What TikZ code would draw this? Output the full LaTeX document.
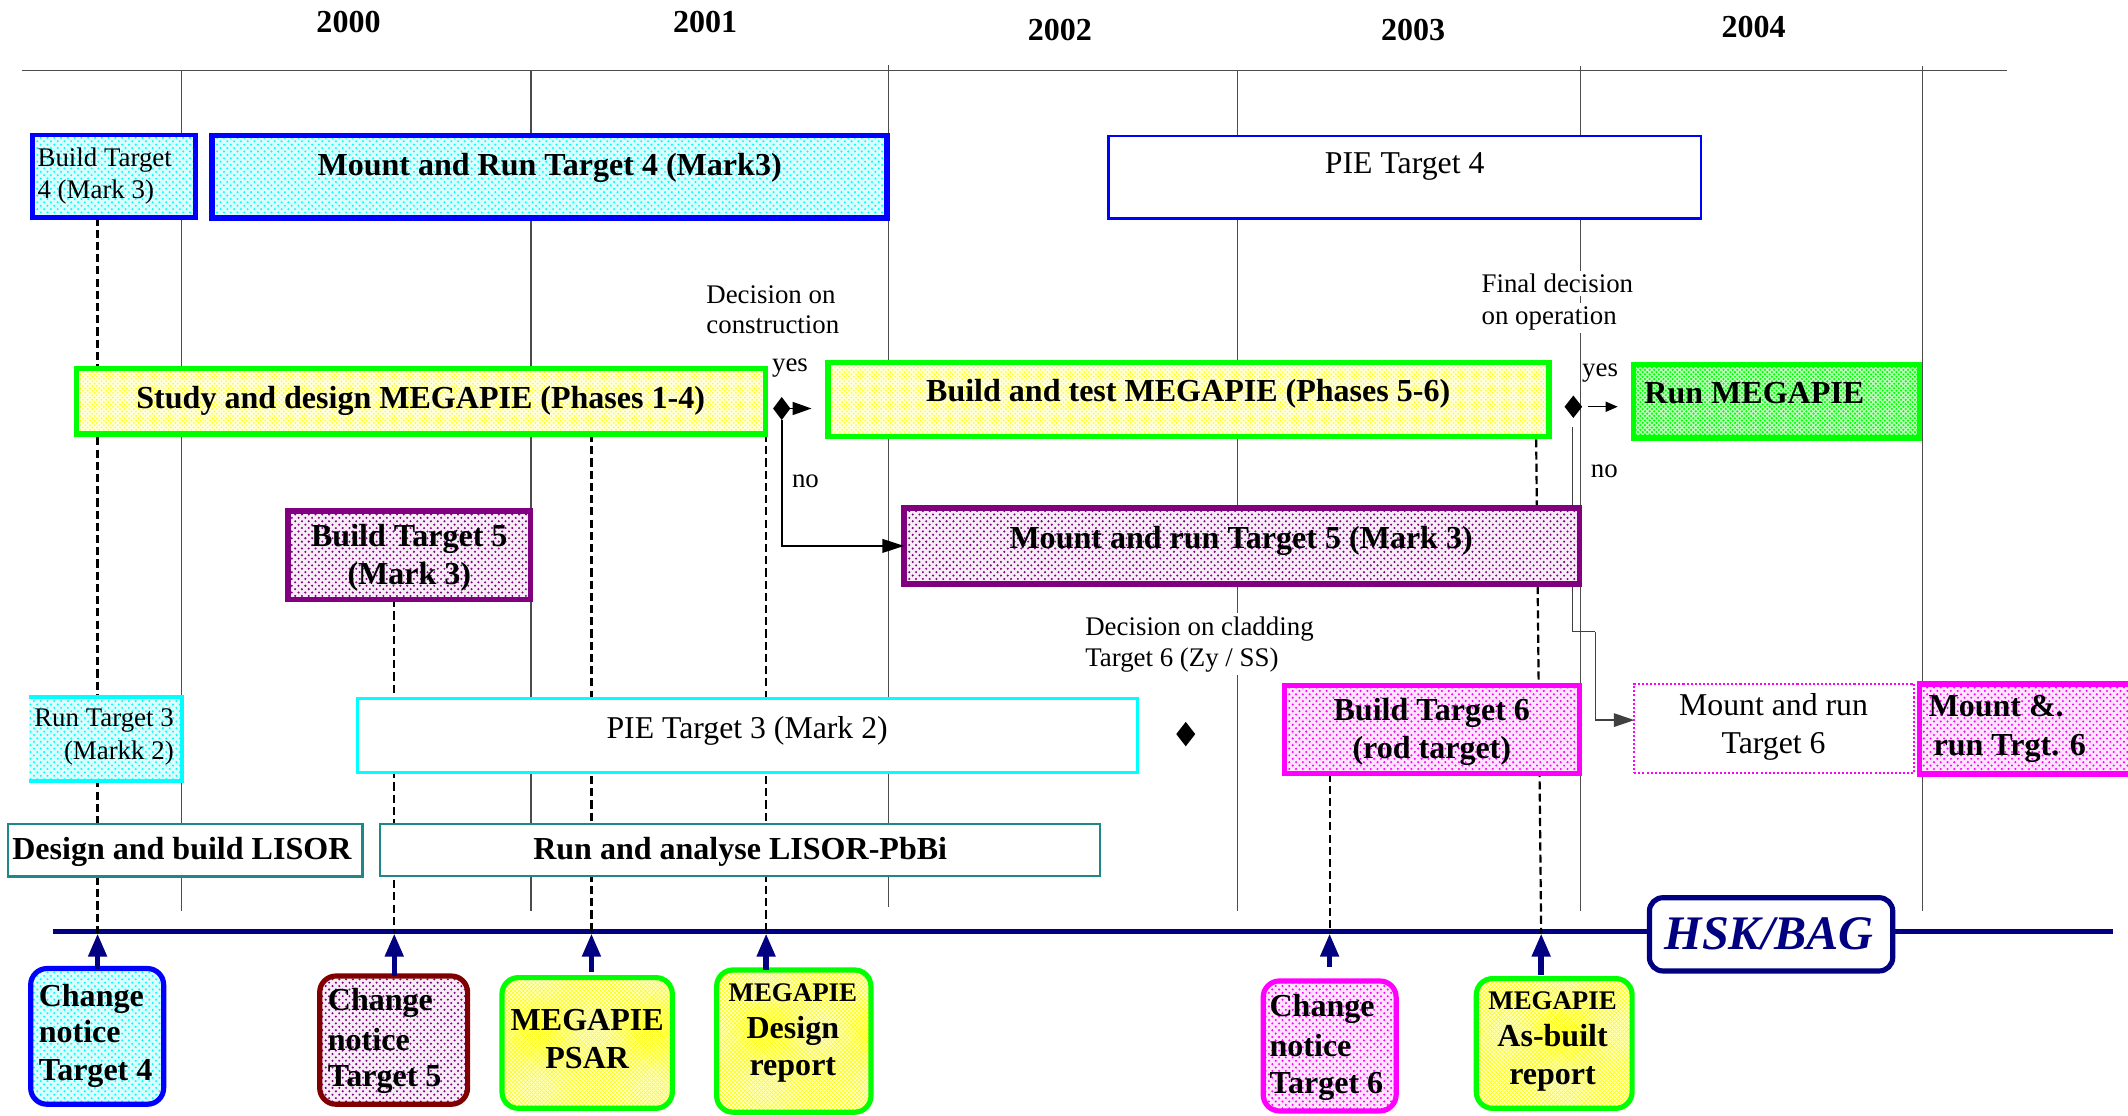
\documentclass[tikz,border=0pt]{standalone}
\usepackage{fontspec}
\setmainfont{Liberation Serif}
\usetikzlibrary{shapes.geometric,arrows.meta,patterns,calc}
\definecolor{cgreen}{RGB}{0,255,0}
\definecolor{cblue}{RGB}{0,0,255}
\definecolor{ccyan}{RGB}{0,255,255}
\definecolor{cpurple}{RGB}{128,0,128}
\definecolor{cmag}{RGB}{255,0,255}
\definecolor{cteal}{RGB}{30,135,135}
\definecolor{cnavy}{RGB}{0,0,128}
\definecolor{cmaroon}{RGB}{128,0,0}
\definecolor{cyell}{RGB}{255,255,0}
\pgfdeclarepatternformonly{sdots}{\pgfqpoint{-1pt}{-1pt}}{\pgfqpoint{6pt}{6pt}}{\pgfqpoint{5pt}{5pt}}{%
  \pgfpathcircle{\pgfqpoint{0pt}{0pt}}{0.85pt}%
  \pgfpathcircle{\pgfqpoint{2.5pt}{2.5pt}}{0.85pt}%
  \pgfusepath{fill}}
\pgfdeclarepatternformonly{ddots}{\pgfqpoint{-1pt}{-1pt}}{\pgfqpoint{4.4pt}{4.4pt}}{\pgfqpoint{3.4pt}{3.4pt}}{%
  \pgfpathcircle{\pgfqpoint{0pt}{0pt}}{0.9pt}%
  \pgfpathcircle{\pgfqpoint{1.7pt}{1.7pt}}{0.9pt}%
  \pgfusepath{fill}}
\pgfdeclarepatternformonly{ydots}{\pgfqpoint{-1pt}{-1pt}}{\pgfqpoint{4.4pt}{4.4pt}}{\pgfqpoint{3.4pt}{3.4pt}}{%
  \pgfpathcircle{\pgfqpoint{0pt}{0pt}}{0.65pt}%
  \pgfpathcircle{\pgfqpoint{1.7pt}{1.7pt}}{0.65pt}%
  \pgfusepath{fill}}
\pgfdeclarelayer{bg}
\pgfsetlayers{bg,main}
\begin{document}
\begin{tikzpicture}[x=1pt,y=-1pt,
  gridl/.style={draw=black!70, line width=0.9pt},
  dashl/.style={draw=black, line width=1.6pt, dash pattern=on 6pt off 3pt},
  tb/.style={font=\fontsize{23.6}{27}\selectfont\bfseries, inner sep=0pt},
  tn/.style={font=\fontsize{23.4}{27}\selectfont, inner sep=0pt},
  ts/.style={font=\fontsize{19.8}{23}\selectfont, inner sep=0pt},
  tsb/.style={font=\fontsize{19.8}{23}\selectfont\bfseries, inner sep=0pt},
  lbl/.style={font=\fontsize{19.8}{23}\selectfont, fill=white, inner sep=2.5pt},
  boxn/.style={rectangle, inner sep=0pt, outer sep=0pt},
  cyanbox/.style={boxn, draw=cblue, preaction={fill=ccyan!14}, pattern=sdots, pattern color=ccyan},
  yelbox/.style={boxn, draw=cgreen, line width=4pt, preaction={fill=cyell!15}, pattern=ydots, pattern color=cyell},
  grnbox/.style={boxn, draw=cgreen, line width=4pt, preaction={fill=cgreen!25}, pattern=ddots, pattern color=cgreen},
  purbox/.style={boxn, draw=cpurple, preaction={fill=cpurple!7}, pattern=sdots, pattern color=cpurple},
  magbox/.style={boxn, draw=cmag, preaction={fill=cmag!10}, pattern=sdots, pattern color=cmag},
  whbox/.style={boxn, fill=white},
  rbox/.style={boxn, line width=3.8pt, rounded corners=12pt},
  diam/.style={diamond, fill=black, inner sep=0pt, outer sep=0pt},
  uparr/.style={draw=cnavy, line width=4pt, -{Triangle[length=17pt,width=13pt]}},
  conn/.style={draw=black, line width=1.4pt},
  thinconn/.style={draw=black!75, line width=0.9pt}
]
\useasboundingbox (0,0) rectangle (1568,821.6);

% ---------- year labels
\node[tb, anchor=base] (y0) at (256.8,24) {2000};
\node[tb, anchor=base] (y1) at (519.5,24) {2001};
\node[tb, anchor=base] (y2) at (781,29.5) {2002};
\node[tb, anchor=base] (y3) at (1041.2,29.5) {2003};
\node[tb, anchor=base] (y4) at (1292.2,27.5) {2004};

% ---------- row 1
\node[cyanbox, line width=3.5pt, minimum width=120.5pt, minimum height=60.7pt] (bt4) at (84,129.9) {};
\node[ts, anchor=base west] (bt4a) at (27.5,122.8) {Build Target};
\node[ts, anchor=base west] (bt4b) at (27.5,146) {4 (Mark 3)};

\node[cyanbox, line width=4.2pt, minimum width=497.3pt, minimum height=60.6pt] (mr4) at (405.1,130.2) {};
\node[tb, anchor=base] (mr4t) at (405,129) {Mount and Run Target 4 (Mark3)};

\node[whbox, draw=cblue, line width=1.8pt, minimum width=436.3pt, minimum height=60.8pt] (pie4) at (1035,130.75) {};
\node[tn, anchor=base] (pie4t) at (1035,128.2) {PIE Target 4};

% ---------- decision labels
\node[lbl, anchor=base west] (dc1) at (517.8,223.5) {Decision on};
\node[lbl, anchor=base west] (dc2) at (517.8,245.6) {construction};
\node[lbl, anchor=base west] (fd1) at (1089,215.7) {Final decision};
\node[lbl, anchor=base west] (fd2) at (1089,238.8) {on operation};

% ---------- MEGAPIE row
\node[yelbox, minimum width=507.8pt, minimum height=48.3pt] (study) at (310.1,295.65) {};
\node[tb, anchor=base] (studyt) at (310,301) {Study and design MEGAPIE (Phases 1-4)};

\node[yelbox, minimum width=531.5pt, minimum height=54.4pt] (build) at (875.75,294.5) {};
\node[tb, anchor=base] (buildt) at (875.5,296) {Build and test MEGAPIE (Phases 5-6)};

\node[grnbox, minimum width=210.7pt, minimum height=54.3pt] (runmp) at (1309,295.65) {};
\node[tb, anchor=base west] (runmpt) at (1211.5,297) {Run MEGAPIE};

\node[diam, minimum width=12.7pt, minimum height=17pt] (d1) at (576,301) {};
\node[diam, minimum width=13pt, minimum height=16.5pt] (d2) at (1159.3,299.7) {};
\node[diam, minimum width=14pt, minimum height=18pt] (d3) at (873.7,540.9) {};

\node[ts, anchor=base west] (yes1) at (568.7,274) {yes};
\node[ts, anchor=base west] (no1) at (583.4,359.4) {no};
\node[ts, anchor=base west] (yes2) at (1165.6,277.6) {yes};
\node[ts, anchor=base west] (no2) at (1172,351.7) {no};

% ---------- Target 5 row
\node[purbox, line width=3.8pt, minimum width=179pt, minimum height=65pt] (bt5) at (301.65,409) {};
\node[tb, anchor=base] (bt5a) at (301.6,402.8) {Build Target 5};
\node[tb, anchor=base] (bt5b) at (301.6,430.4) {(Mark 3)};

\node[purbox, line width=4pt, minimum width=497.5pt, minimum height=56pt] (mr5) at (915,402.25) {};
\node[tb, anchor=base] (mr5t) at (914.5,404) {Mount and run Target 5 (Mark 3)};

\node[lbl, anchor=base west] (cl1) at (797,468) {Decision on cladding};
\node[lbl, anchor=base west] (cl2) at (797,490.8) {Target 6 (Zy / SS)};

% ---------- Target 3 / 6 row
\node[boxn, preaction={fill=ccyan!14}, pattern=sdots, pattern color=ccyan, minimum width=112.5pt, minimum height=61.7pt] (rt3) at (77.85,544.45) {};
\draw[draw=ccyan, line width=3.2pt] (rt3.north west) -- (rt3.north east) -- (rt3.south east) -- (rt3.south west);
\node[ts, anchor=base east] (rt3a) at (128.2,535.5) {Run Target 3};
\node[ts, anchor=base east] (rt3b) at (128.2,559.3) {(Markk 2)};

\node[whbox, draw=ccyan, line width=2.2pt, minimum width=575pt, minimum height=55pt] (pie3) at (550.65,541.9) {};
\node[tn, anchor=base] (pie3t) at (550.5,544) {PIE Target 3 (Mark 2)};

\node[magbox, line width=3.8pt, minimum width=217.5pt, minimum height=65pt] (bt6) at (1055.35,537.4) {};
\node[tb, anchor=base] (bt6a) at (1055,530.6) {Build Target 6};
\node[tb, anchor=base] (bt6b) at (1055,558.8) {(rod target)};

\node[whbox, draw=cmag, line width=1.6pt, dash pattern=on 1.5pt off 1.5pt, minimum width=206pt, minimum height=66pt] (mrt6) at (1307.2,536.7) {};
\node[tn, anchor=base] (mrt6a) at (1306.8,526.9) {Mount and run};
\node[tn, anchor=base] (mrt6b) at (1306.8,555.1) {Target 6};

\node[magbox, line width=4pt, minimum width=187pt, minimum height=66.5pt] (mr6) at (1508,537.1) {};
\node[tb, anchor=base west] (mr6a) at (1420.8,528.1) {Mount \&.};
\node[tb, anchor=base west] (mr6b) at (1424.5,556.4) {run Trgt. 6};

% ---------- LISOR row
\node[whbox, draw=cteal, line width=1.8pt, minimum width=261pt, minimum height=38.8pt] (lis1) at (136.5,626.35) {};
\node[tb, anchor=base] (lis1t) at (134,633.3) {Design and build LISOR};
\node[whbox, draw=cteal, line width=1.8pt, minimum width=530.5pt, minimum height=38.2pt] (lis2) at (545.1,626.35) {};
\node[tb, anchor=base] (lis2t) at (545.4,633) {Run and analyse LISOR-PbBi};

% ---------- HSK/BAG
\node[whbox, draw=cnavy, line width=3.8pt, rounded corners=10pt, minimum width=179.3pt, minimum height=54pt] (hsk) at (1305,688.45) {};
\node[anchor=base, inner sep=0pt, text=cnavy, font=\fontsize{35.5}{40}\selectfont\bfseries\itshape] (hskt) at (1303.5,699.6) {HSK/BAG};

% ---------- bottom documents
\node[rbox, draw=cblue, preaction={fill=ccyan!14}, pattern=sdots, pattern color=ccyan, minimum width=98pt, minimum height=100pt] (cn4) at (71.6,763.65) {};
\node[tb, anchor=base west] (cn4a) at (28.4,741.8) {Change};
\node[tb, anchor=base west] (cn4b) at (28.4,768.3) {notice};
\node[tb, anchor=base west] (cn4c) at (28.4,795.8) {Target 4};

\node[rbox, draw=cmaroon, preaction={fill=cpurple!7}, pattern=sdots, pattern color=cpurple, minimum width=109pt, minimum height=94.5pt] (cn5) at (290.05,766.4) {};
\node[tb, anchor=base west] (cn5a) at (241.4,744.3) {Change};
\node[tb, anchor=base west] (cn5b) at (241.4,774.3) {notice};
\node[tb, anchor=base west] (cn5c) at (241.4,800.8) {Target 5};

\node[rbox, draw=cgreen, preaction={fill=cyell!18}, pattern=crosshatch, pattern color=cyell, minimum width=125.5pt, minimum height=96.3pt] (psar) at (432.65,768.5) {};
\node[tb, anchor=base] (psara) at (432.7,759) {MEGAPIE};
\node[tb, anchor=base] (psarb) at (432.7,787.3) {PSAR};

\node[rbox, draw=cgreen, preaction={fill=cyell!18}, pattern=crosshatch, pattern color=cyell, minimum width=113.7pt, minimum height=104.8pt] (desr) at (584.9,767.1) {};
\node[tsb, anchor=base] (desra) at (584.2,738.2) {MEGAPIE};
\node[tb, anchor=base] (desrb) at (584.2,765.1) {Design};
\node[tb, anchor=base] (desrc) at (584.2,792.2) {report};

\node[rbox, draw=cmag, preaction={fill=cmag!10}, pattern=sdots, pattern color=cmag, minimum width=98pt, minimum height=95.8pt] (cn6) at (979.75,770.7) {};
\node[tb, anchor=base west] (cn6a) at (935.3,749.2) {Change};
\node[tb, anchor=base west] (cn6b) at (935.3,778.2) {notice};
\node[tb, anchor=base west] (cn6c) at (935.3,805.7) {Target 6};

\node[rbox, draw=cgreen, preaction={fill=cyell!18}, pattern=crosshatch, pattern color=cyell, minimum width=114.8pt, minimum height=95.6pt] (asb) at (1145.2,768.85) {};
\node[tsb, anchor=base] (asba) at (1144,743.8) {MEGAPIE};
\node[tb, anchor=base] (asbb) at (1144,771.3) {As-built};
\node[tb, anchor=base] (asbc) at (1144,798.8) {report};

% ---------- milestone coordinates on the HSK line
\coordinate (m1) at (71.9,687.8);
\coordinate (m2) at (290.5,687.8);
\coordinate (m3) at (435.8,687.8);
\coordinate (m4) at (564.5,687.8);
\coordinate (m5) at (979.7,687.8);
\coordinate (m6) at (1135.6,687.8);
\coordinate (m6top) at (1131.9,323.7);
\coordinate (hl0) at (38.8,686.5);
\coordinate (hl1) at (1557,686.5);
\coordinate (tl0) at (16,51.8);
\coordinate (tl1) at (1478.5,51.8);
\coordinate (ya1) at (598,301);
\coordinate (ya2) at (1192,299.7);
\coordinate (j1) at (1175.4,465.5);
\coordinate (j0) at (1158.9,314.9);

% ---------- upward arrows
\draw[uparr] (cn4.north -| m1) -- (m1);
\draw[uparr] (cn5.north -| m2) -- (m2);
\draw[uparr] ($(psar.north -| m3)+(0,-4)$) -- (m3);
\draw[uparr] (desr.north -| m4) -- (m4);
\draw[uparr] ($(cn6.north -| m5)+(0,-10)$) -- (m5);
\draw[uparr] ($(asb.north -| m6)+(0,-2.5)$) -- (m6);

% ---------- decision arrows
\draw[conn, -{Triangle[length=14pt,width=9.5pt]}] (d1.east) -- (ya1);
\draw[conn, -{Triangle[length=16pt,width=10pt]}] (d1.south) |- (mr5.west);
\draw[draw=black, line width=1.1pt, -{Triangle[length=9pt,width=7.5pt]}] ($(d2.east)+(4.5,0)$) -- (ya2);

% ---------- background: grid, lines, dashed links
\begin{pgfonlayer}{bg}
\draw[gridl] (tl0) -- (tl1);
\draw[gridl] (133.9,51.8) -- (133.9,671);
\draw[gridl] (391.3,51.8) -- (391.3,671);
\draw[gridl] (654.6,47.9) -- (654.6,668);
\draw[gridl] (912,51.8) -- (912,671);
\draw[gridl] (1164.3,49) -- (1164.3,671);
\draw[gridl] (1416.5,49) -- (1416.5,671);
\draw[draw=cnavy, line width=3.4pt] (hl0) -- (hl1);
\draw[dashl] (bt4.south -| m1) -- (m1);
\draw[dashl] (bt5.south -| m2) -- (m2);
\draw[dashl] (study.south -| m3) -- (m3);
\draw[dashl] (study.south -| m4) -- (m4);
\draw[dashl] (bt6.south -| m5) -- (m5);
\draw[dashl] (m6top) -- (m6);
\draw[thinconn] (j0) |- (j1);
\draw[thinconn, -{Triangle[length=15pt,width=10pt]}] (j1) |- ($(mrt6.west)+(0,-6.1)$);
\end{pgfonlayer}
\end{tikzpicture}
\end{document}
